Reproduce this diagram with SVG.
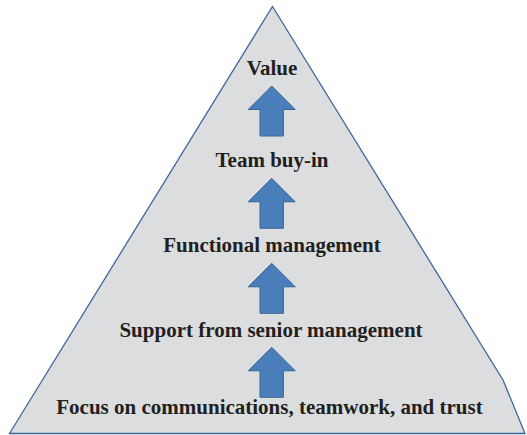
<svg xmlns="http://www.w3.org/2000/svg" width="527" height="435" viewBox="0 0 527 435">
<style>
.lbl{font-family:"Liberation Serif","Times New Roman",serif;font-weight:bold;font-size:21px;fill:#231f20;text-anchor:middle}
.arr{fill:#4a7ebb;stroke:#3a6696;stroke-width:1}
.tri{fill:#dcdddf;stroke:#3b669f;stroke-width:1.3}
</style>
<defs>
<path id="up" class="arr" d="M0,0 L23.5,23.5 L11.7,23.5 L11.7,50 L-11.7,50 L-11.7,23.5 L-23.5,23.5 Z"/>
</defs>
<rect width="527" height="435" fill="#ffffff"/>
<polygon class="tri" points="272.5,6.5 503,380 525,433.5 9.5,433.5"/>
<g id="node-value"><text class="lbl" x="272" y="75">Value</text></g>
<g id="node-team"><text class="lbl" x="272" y="166.5">Team buy-in</text></g>
<g id="node-functional"><text class="lbl" x="272" y="252">Functional management</text></g>
<g id="node-support"><text class="lbl" x="271" y="336.5">Support from senior management</text></g>
<g id="node-focus"><text class="lbl" x="269.5" y="414">Focus on communications, teamwork, and trust</text></g>
<g id="connectors">
<use href="#up" x="271.7" y="86"/>
<use href="#up" x="271.7" y="178.3"/>
<use href="#up" x="271.7" y="263.3"/>
<use href="#up" x="271.7" y="347.3"/>
</g>
</svg>
